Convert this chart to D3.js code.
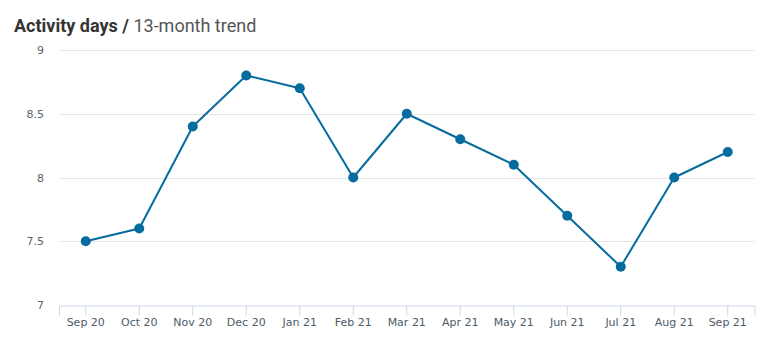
<!DOCTYPE html>
<html><head><meta charset="utf-8">
<script src="https://cdn.jsdelivr.net/npm/d3@7"></script>
<style>body{margin:0;background:#fff}svg{display:block}</style>
</head><body>
<svg id="c" width="780" height="355"></svg>
<script>
const categories = ["Sep 20","Oct 20","Nov 20","Dec 20","Jan 21","Feb 21","Mar 21","Apr 21","May 21","Jun 21","Jul 21","Aug 21","Sep 21"];
const values = [7.5, 7.6, 8.4, 8.8, 8.7, 8.0, 8.5, 8.3, 8.1, 7.7, 7.3, 8.0, 8.2];
const yTicks = [7, 7.5, 8, 8.5, 9];
const titleBold = "Activity days / ";
const titleLight = "13-month trend";

(function () {
const svg = d3.select("#c");
const mLeft = 59, mRight = 754.5, mTop = 50, mBottom = 305;
const x = d3.scaleBand().domain(categories).range([mLeft, mRight]).padding(0);
const y = d3.scaleLinear().domain([7, 9]).range([mBottom, mTop]);
const cx = d => x(d) + x.bandwidth() / 2;

const t = svg.append("text").attr("x", 14).attr("y", 32)
  .style("font-family", "Roboto, sans-serif").style("font-size", "18px");
t.append("tspan").text(titleBold).attr("font-weight", "bold").attr("fill", "#333333");
t.append("tspan").text(titleLight).attr("fill", "#555555");

svg.append("g").selectAll("line").data(yTicks.filter(v => v !== 7)).join("line")
  .attr("x1", mLeft).attr("x2", mRight)
  .attr("y1", d => Math.round(y(d)) + 0.5).attr("y2", d => Math.round(y(d)) + 0.5)
  .attr("stroke", "#e6e6e6").attr("stroke-width", 1);

svg.append("g").selectAll("text").data(yTicks).join("text")
  .attr("x", 44).attr("y", d => y(d) + 4)
  .attr("text-anchor", "end")
  .style("font-family", "'DejaVu Sans', sans-serif").style("font-size", "11px")
  .attr("fill", "#5a6470")
  .text(d => d3.format("~g")(d));

const xAxis = svg.append("g").attr("transform", `translate(0,${Math.round(mBottom) + 0.5})`)
  .call(d3.axisBottom(x).tickSizeOuter(0).tickSize(10).tickPadding(3));
xAxis.select(".domain").attr("stroke", "#ccd6eb");
xAxis.selectAll(".tick line").attr("stroke", "#ccd6eb");
xAxis.selectAll(".tick text")
  .style("font-family", "'DejaVu Sans', sans-serif").style("font-size", "11px")
  .attr("fill", "#4d5a68");

const line = d3.line().x((d, i) => cx(categories[i])).y(d => y(d));
svg.append("path").datum(values).attr("d", line)
  .attr("fill", "none").attr("stroke", "#066b9e").attr("stroke-width", 2)
  .attr("stroke-linejoin", "round");

svg.append("g").selectAll("circle").data(values).join("circle")
  .attr("cx", (d, i) => cx(categories[i])).attr("cy", d => y(d)).attr("r", 5)
  .attr("fill", "#066b9e");
})();
</script>
</body></html>
